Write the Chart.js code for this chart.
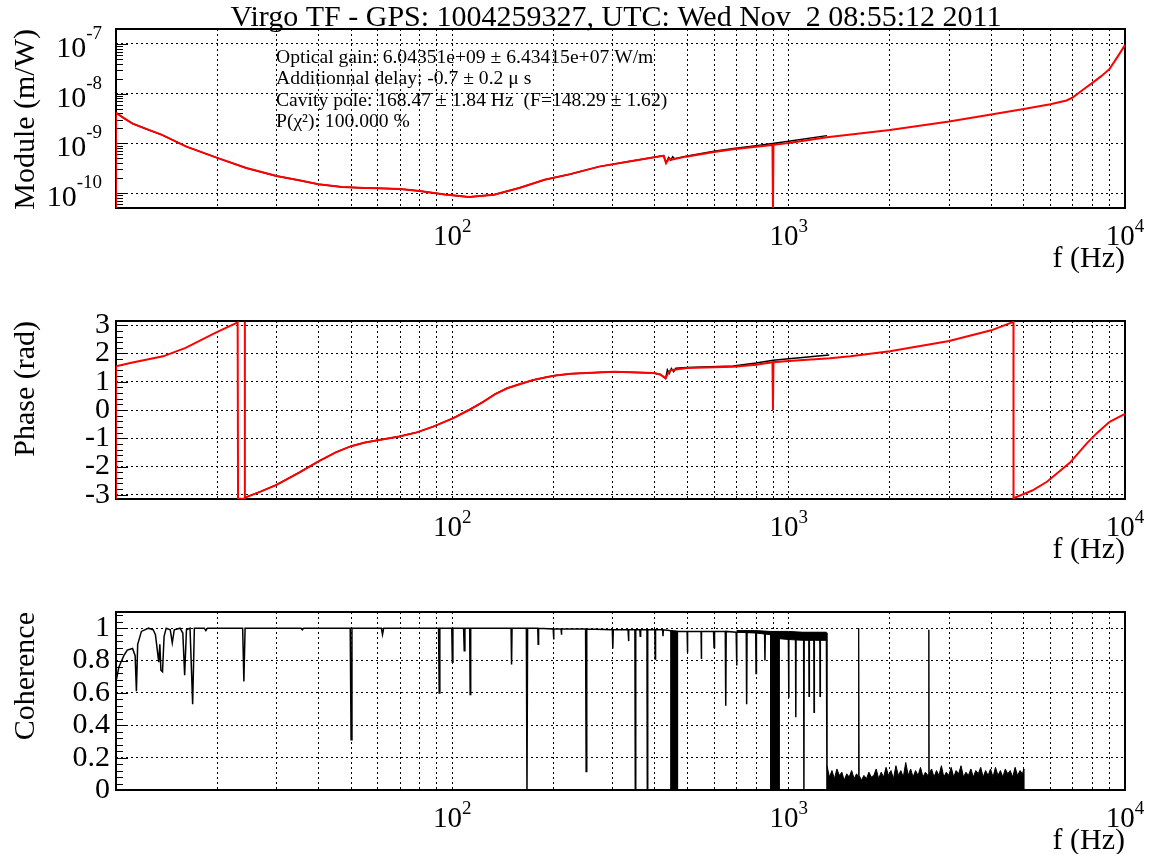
<!DOCTYPE html>
<html>
<head>
<meta charset="utf-8">
<script src="https://cdn.jsdelivr.net/npm/chart.js@4.4.1/dist/chart.umd.min.js"></script>
<style>
  html, body { margin: 0; padding: 0; background: #fff; }
  #wrap { position: relative; width: 1150px; height: 854px; }
  canvas { position: absolute; left: 0; }
</style>
</head>
<body>
<div id="wrap">
  <canvas id="module" width="1150" height="285" style="top:0px"></canvas>
  <canvas id="phase" width="1150" height="285" style="top:285px"></canvas>
  <canvas id="coherence" width="1150" height="284" style="top:570px"></canvas>
</div>
<script>
const FONT = "'Liberation Serif', 'Times New Roman', serif";

const title = "Virgo TF - GPS: 1004259327, UTC: Wed Nov  2 08:55:12 2011";
const fitInfo = [
    "Optical gain: 6.04351e+09 \u00b1 6.43415e+07 W/m",
    "Additionnal delay: -0.7 \u00b1 0.2 \u03bc s",
    "Cavity pole: 168.47 \u00b1 1.84 Hz  (F=148.29 \u00b1 1.62)",
    "P(\u03c7\u00b2): 100.000 %"
];

// frequency axis
const freqMin = 10, freqMax = 10000;
const freqDecades = [100, 1000, 10000];

// module (m/W)
const modMin = 5e-11, modMax = 2e-7;
const modDecades = [1e-10, 1e-9, 1e-8, 1e-7];
const modFitFreq = [10, 10, 10.5, 11.2, 12.3, 13.7, 16.2, 20, 24.4, 30, 35, 40, 47, 55, 60, 70, 80, 95, 112, 133,
    158, 188, 224, 273, 335, 415, 425, 432, 440, 448, 495, 600, 685, 800, 895, 898, 901, 1000, 1300, 2000,
    3000, 4000, 5000, 6000, 6700, 7000, 7500, 8000, 8500, 9000, 9500, 10000];
const modFit = [5e-11, 4.1e-9, 3.3e-9, 2.5e-9, 1.95e-9, 1.48e-9, 8.6e-10, 5.1e-10, 3.2e-10, 2.2e-10, 1.8e-10, 1.5e-10, 1.33e-10, 1.27e-10, 1.25e-10, 1.2e-10, 1.1e-10, 9.3e-11, 8.3e-11, 9.2e-11,
    1.26e-10, 1.85e-10, 2.4e-10, 3.4e-10, 4.3e-10, 5.5e-10, 5.6e-10, 4.0e-10, 4.85e-10, 4.7e-10, 5.4e-10, 6.7e-10, 7.6e-10, 8.5e-10, 9.3e-10, 4e-11, 9.35e-10, 1.02e-9, 1.33e-9, 1.86e-9,
    2.75e-9, 3.8e-9, 4.9e-9, 6.1e-9, 7.3e-9, 8.4e-9, 1.2e-8, 1.65e-8, 2.25e-8, 3.15e-8, 5.5e-8, 9.5e-8];
const modDataFreq = [10, 10.5, 11.2, 12.3, 13.7, 16.2, 20, 24.4, 30, 35, 40, 47, 55, 60, 70, 80, 95, 112, 133,
    158, 188, 224, 273, 335, 415, 425, 432, 440, 446, 452, 458, 495, 600, 685, 800, 895, 1000, 1300];
const modData = [4.15e-9, 3.3e-9, 2.5e-9, 1.95e-9, 1.48e-9, 8.6e-10, 5.1e-10, 3.2e-10, 2.2e-10, 1.8e-10, 1.5e-10, 1.33e-10, 1.27e-10, 1.25e-10, 1.2e-10, 1.1e-10, 9.3e-11, 8.3e-11, 9.2e-11,
    1.26e-10, 1.85e-10, 2.4e-10, 3.4e-10, 4.3e-10, 5.5e-10, 5.65e-10, 4.1e-10, 5.2e-10, 4.6e-10, 5.4e-10, 4.9e-10, 5.5e-10, 6.9e-10, 7.9e-10, 9.0e-10, 9.9e-10, 1.1e-9, 1.43e-9];

// phase (rad)
const phaseMin = -3.15, phaseMax = 3.15;
const phaseTicks = [-3, -2, -1, 0, 1, 2, 3];
const phaseFitFreq = [10, 10, 11.2, 13.8, 16.1, 19.8, 23.0, 23.06, 24.12, 24.15, 24.18, 27, 30, 35, 40,
    45, 50, 55, 60, 69.5, 78, 87.7, 100.7, 112, 123.5, 134, 145.5, 160, 174, 190,
    202.6, 225, 250, 302, 397, 415, 430.7, 438, 445.5, 499, 684, 800, 895, 898, 901,
    1000, 1326, 1526, 2000, 3000, 4000, 4660, 4662, 5300, 5860, 6850, 7710, 8260, 9000, 10000];
const phaseFit = [-3.15, 1.55, 1.68, 1.9, 2.2, 2.74, 3.1, -3.14, -3.14, 3.12, -3.1, -2.88, -2.65, -2.22, -1.82,
    -1.5, -1.28, -1.15, -1.07, -0.94, -0.8, -0.59, -0.29, 0.0, 0.29, 0.56, 0.77, 0.93, 1.06, 1.16,
    1.22, 1.28, 1.31, 1.35, 1.31, 1.26, 1.12, 1.3, 1.41, 1.49, 1.53, 1.6, 1.69, 0.0, 1.69,
    1.73, 1.83, 1.9, 2.08, 2.44, 2.82, 3.12, -3.12, -2.85, -2.54, -1.87, -1.17, -0.81, -0.42, -0.14];
const phaseDataFreq = [24.18, 27, 30, 35, 40, 45, 50, 55, 60, 69.5, 78, 87.7, 100.7, 112, 123.5, 134, 145.5, 160, 174, 190,
    202.6, 225, 250, 302, 397, 415, 430.7, 436, 442, 448, 455, 462, 499, 684, 800, 900, 1000, 1100, 1200, 1320];
const phaseData = [-3.1, -2.88, -2.65, -2.22, -1.82, -1.5, -1.28, -1.15, -1.07, -0.94, -0.8, -0.59, -0.29, 0.0, 0.29, 0.56, 0.77, 0.93, 1.06, 1.16,
    1.22, 1.28, 1.31, 1.35, 1.31, 1.26, 1.12, 1.42, 1.3, 1.47, 1.36, 1.48, 1.5, 1.56, 1.66, 1.76, 1.81, 1.86, 1.9, 1.95];

// coherence
const cohMin = 0, cohMax = 1.1;
const cohTicks = [0, 0.2, 0.4, 0.6, 0.8, 1];
const cohFreq = [
    10, 10.2, 10.4, 10.55, 10.8, 11.2, 11.4, 11.5, 11.6, 11.75, 11.9,
    12.5, 12.9, 13.1, 13.4, 13.5, 13.6, 13.75, 13.9, 14.1, 14.5, 14.7, 14.9,
    15.5, 15.8, 16.0, 16.2, 16.6, 16.9, 17.1,
    18.3, 18.5, 18.7, 23.8, 24.0, 24.2, 35.5, 35.8, 36.1, 49.7, 50.0, 50.3,
    61.5, 62, 62.5, 91, 91.4, 91.8, 99.6, 100, 100.4, 108, 108.5, 109,
    112.6, 113, 113.4, 149.5, 150, 150.5, 166, 166.7, 167.4, 179.5, 180, 180.5,
    199.5, 200, 200.5, 210.5, 211, 211.5, 249, 250, 251, 299, 300, 301,
    333, 334, 335, 349, 350, 351, 361, 362, 363, 379, 380, 381,
    400, 401, 402, 422, 423, 424, 443, 471,
    499, 500, 501, 549, 550, 551, 598, 600, 602, 648, 650, 652,
    698, 700, 702, 748, 750, 752, 798, 800, 802, 848, 850, 852, 878, 944,
    998, 1000, 1002, 1048, 1050, 1052, 1108, 1110, 1112,
    1148, 1150, 1152, 1188, 1190, 1192, 1238, 1240, 1242, 1295, 1300];
const cohVal = [
    0.67, 0.76, 0.80, 0.83, 0.865, 0.875, 0.83, 0.61, 0.90, 0.94, 0.98,
    1.0, 0.99, 0.96, 0.79, 0.90, 0.74, 0.73, 0.95, 1.0, 0.99, 0.91, 0.99,
    1.0, 0.97, 0.71, 0.99, 1.0, 0.53, 1.0,
    1.0, 0.985, 1.0, 1.0, 0.67, 1.0, 1.0, 0.99, 1.0, 1.0, 0.31, 1.0,
    1.0, 0.96, 1.0, 1.0, 0.60, 1.0, 1.0, 0.79, 1.0, 1.0, 0.86, 1.0,
    1.0, 0.59, 1.0, 1.0, 0.775, 1.0, 1.0, 0.0, 1.0, 1.0, 0.90, 1.0,
    0.995, 0.93, 0.995, 0.995, 0.96, 0.995, 0.995, 0.115, 0.995, 0.99, 0.875, 0.99,
    0.99, 0.92, 0.99, 0.99, 0.0, 0.99, 0.99, 0.95, 0.99, 0.99, 0.0, 0.99,
    0.99, 0.81, 0.99, 0.99, 0.95, 0.99, 0.985, 0.98,
    0.98, 0.85, 0.98, 0.98, 0.81, 0.98, 0.98, 0.88, 0.98, 0.98, 0.52, 0.98,
    0.975, 0.77, 0.975, 0.975, 0.53, 0.975, 0.975, 0.72, 0.975, 0.975, 0.80, 0.975, 0.975, 0.975,
    0.97, 0.57, 0.97, 0.97, 0.45, 0.97, 0.97, 0.0, 0.97,
    0.97, 0.58, 0.97, 0.97, 0.48, 0.97, 0.97, 0.58, 0.97, 0.97, 0.0];
// dense clusters of dips (drawn solid)
const cohBlockStart = [444, 880];
const cohBlockEnd = [470, 942];
const cohBlockTop = [0.98, 0.97];
// noisy band just under 1 (700 Hz - 1.3 kHz)
const cohBandFreq = [700, 800, 880, 940, 1000, 1100, 1200, 1295];
const cohBandTop = [0.985, 0.985, 0.98, 0.98, 0.98, 0.975, 0.975, 0.975];
const cohBandLow = [0.975, 0.97, 0.96, 0.935, 0.93, 0.925, 0.925, 0.925];
// upper envelope of the low-coherence noise above 1.3 kHz
const cohNoiseFreq = [1300, 1322, 1345, 1368, 1391, 1415, 1439, 1463, 1488, 1513, 1539, 1565, 1592, 1610,
    1613, 1617, 1620, 1646, 1674, 1703, 1732, 1761, 1791, 1821, 1852, 1884, 1916, 1948, 1981,
    2015, 2049, 2084, 2119, 2155, 2192, 2229, 2267, 2305, 2344, 2384, 2425, 2466, 2508, 2550, 2593,
    2606, 2609, 2613, 2616, 2660, 2705, 2751, 2798, 2845, 2893, 2942, 2992, 3043, 3095, 3147,
    3201, 3255, 3310, 3366, 3423, 3482, 3541, 3601, 3662, 3724, 3787, 3851, 3917, 3983,
    4051, 4120, 4190, 4261, 4333, 4407, 4481, 4557, 4635, 4713, 4793, 4875, 4957, 5000, 5000];
const cohNoiseVal = [0.15, 0.08, 0.12, 0.07, 0.13, 0.09, 0.11, 0.06, 0.10, 0.08, 0.12, 0.07, 0.10, 0.08,
    1.0, 1.0, 0.09, 0.06, 0.09, 0.07, 0.11, 0.08, 0.09, 0.13, 0.07, 0.11, 0.08, 0.14, 0.09,
    0.12, 0.07, 0.15, 0.09, 0.12, 0.08, 0.17, 0.09, 0.13, 0.08, 0.12, 0.09, 0.14, 0.08, 0.11, 0.09,
    0.10, 0.99, 0.99, 0.10, 0.13, 0.08, 0.12, 0.09, 0.15, 0.08, 0.11, 0.09, 0.14, 0.08, 0.12,
    0.10, 0.15, 0.08, 0.11, 0.09, 0.13, 0.08, 0.12, 0.10, 0.14, 0.08, 0.12, 0.09, 0.13,
    0.08, 0.14, 0.09, 0.12, 0.08, 0.13, 0.10, 0.12, 0.08, 0.14, 0.09, 0.12, 0.10, 0.13, 0];

// ---------------------------------------------------------------------

function pts(fs, vs) { return fs.map((f, i) => ({x: f, y: vs[i]})); }

const xGrid = [];
for (let d = 10; d < 10000; d *= 10) for (let m = 1; m < 10; m++) xGrid.push(m * d);
xGrid.push(10000);

function xAxis(height) {
    return {
        type: 'logarithmic', min: freqMin, max: freqMax,
        afterBuildTicks: s => { s.ticks = xGrid.map(v => ({value: v})); },
        afterFit: s => { s.height = height; },
        ticks: {display: false, autoSkip: false},
        grid: {color: '#000', lineWidth: 1, drawTicks: false},
        border: {display: false, dash: [2, 3]}
    };
}

function yAxis(type, min, max, ticks, showLabels) {
    return {
        type: type, min: min, max: max,
        afterBuildTicks: s => { s.ticks = ticks.map(v => ({value: v})); },
        afterFit: s => { s.width = 116; },
        ticks: {display: showLabels, autoSkip: false, color: '#000', padding: 6,
            font: {family: FONT, size: 30}, callback: v => String(v)},
        grid: {color: '#000', lineWidth: 1, drawTicks: false},
        border: {display: false, dash: [2, 3]}
    };
}

function drawPow(ctx, exp, x, y, align, baseSize, supSize, rise) {
    ctx.font = baseSize + 'px ' + FONT;
    const wb = ctx.measureText('10').width;
    ctx.font = supSize + 'px ' + FONT;
    const ws = ctx.measureText(exp).width;
    const x0 = align === 'center' ? x - (wb + ws) / 2 : x - (wb + ws);
    ctx.textAlign = 'left';
    ctx.textBaseline = 'alphabetic';
    ctx.font = baseSize + 'px ' + FONT;
    ctx.fillText('10', x0, y);
    ctx.font = supSize + 'px ' + FONT;
    ctx.fillText(exp, x0 + wb, y - rise);
}

// ROOT-like pad: frame, inner ticks, power-of-ten labels, axis titles
function rootPad(cfg) {
    return {
        id: 'rootPad',
        beforeDatasetsDraw(chart) {
            const {ctx, chartArea: a} = chart;
            const y = chart.scales.y;
            ctx.save();
            ctx.strokeStyle = '#000';
            ctx.lineWidth = 1;
            cfg.yMarks.forEach(([v, len]) => {
                const py = Math.round(y.getPixelForValue(v)) + 0.5;
                ctx.beginPath();
                ctx.moveTo(a.left, py);
                ctx.lineTo(a.left + len, py);
                ctx.stroke();
            });
            ctx.lineWidth = 2;
            ctx.strokeRect(a.left, a.top, a.right - a.left, a.bottom - a.top);
            ctx.restore();
        },
        afterDraw(chart) {
            const {ctx, chartArea: a} = chart;
            const x = chart.scales.x, y = chart.scales.y;
            ctx.save();
            ctx.fillStyle = '#000';
            freqDecades.forEach(d => {
                drawPow(ctx, String(Math.round(Math.log10(d))), x.getPixelForValue(d), a.bottom + 37, 'center', 29, 19, 13);
            });
            if (cfg.logLabels) {
                cfg.logLabels.forEach(v => {
                    drawPow(ctx, String(Math.round(Math.log10(v))), 102, y.getPixelForValue(v) + 13, 'right', 30, 19, 18);
                });
            }
            ctx.font = '30px ' + FONT;
            ctx.textAlign = 'right';
            ctx.textBaseline = 'alphabetic';
            ctx.fillText('f (Hz)', a.right, a.bottom + 59);
            ctx.save();
            ctx.translate(34, a.top);
            ctx.rotate(-Math.PI / 2);
            ctx.textAlign = 'right';
            ctx.fillText(cfg.yTitle, 0, 0);
            ctx.restore();
            if (cfg.extra) cfg.extra(ctx, a);
            ctx.restore();
        }
    };
}

function baseOptions(padTop, xHeight, yScale) {
    return {
        responsive: false,
        animation: false,
        events: [],
        layout: {padding: {top: padTop, right: 25, left: 0, bottom: 0}},
        elements: {point: {radius: 0}, line: {tension: 0}},
        plugins: {legend: {display: false}, tooltip: {enabled: false}},
        scales: {x: xAxis(xHeight), y: yScale}
    };
}

// inner tick marks on the left side of each frame
const modMarks = [];
for (let e = -11; e <= -7; e++) for (let m = 1; m < 10; m++) {
    const v = m * Math.pow(10, e);
    if (v >= modMin && v <= modMax) modMarks.push([v, m === 1 ? 12 : 7]);
}
const phaseMarks = [];
for (let i = -15; i <= 15; i++) phaseMarks.push([i * 0.2, i % 5 === 0 ? 12 : 7]);
const cohMarks = [];
for (let i = 0; i <= 27; i++) cohMarks.push([i * 0.04, i % 5 === 0 ? 12 : 7]);

// --- module ---
new Chart(document.getElementById('module'), {
    type: 'line',
    data: {
        datasets: [
            {label: 'fit', data: pts(modFitFreq, modFit), borderColor: '#ff0000', borderWidth: 2},
            {label: 'data', data: pts(modDataFreq, modData), borderColor: '#000', borderWidth: 1.5}
        ]
    },
    options: baseOptions(29, 77, yAxis('logarithmic', modMin, modMax, modDecades, false)),
    plugins: [rootPad({
        yTitle: 'Module (m/W)', yMarks: modMarks, logLabels: modDecades,
        extra: (ctx, a) => {
            ctx.textAlign = 'center';
            ctx.font = '30px ' + FONT;
            ctx.fillText(title, 616, 26);
            ctx.textAlign = 'left';
            ctx.font = '19.6px ' + FONT;
            fitInfo.forEach((t, i) => ctx.fillText(t, 276, 63 + i * 21.3));
        }
    })]
});

// --- phase ---
new Chart(document.getElementById('phase'), {
    type: 'line',
    data: {
        datasets: [
            {label: 'fit', data: pts(phaseFitFreq, phaseFit), borderColor: '#ff0000', borderWidth: 2},
            {label: 'data', data: pts(phaseDataFreq, phaseData), borderColor: '#000', borderWidth: 1.5}
        ]
    },
    options: baseOptions(36, 71, yAxis('linear', phaseMin, phaseMax, phaseTicks, true)),
    plugins: [rootPad({yTitle: 'Phase (rad)', yMarks: phaseMarks})]
});

// --- coherence ---
const cohSets = [
    {label: 'coherence', data: pts(cohFreq, cohVal), borderColor: '#000', borderWidth: 1.5},
    {label: 'band top', data: pts(cohBandFreq, cohBandTop), borderColor: '#000', borderWidth: 1},
    {label: 'band low', data: pts(cohBandFreq, cohBandLow), borderColor: '#000', borderWidth: 1,
        fill: '-1', backgroundColor: '#000'},
    {label: 'noise', data: pts(cohNoiseFreq, cohNoiseVal), borderColor: '#000', borderWidth: 1,
        fill: 'origin', backgroundColor: '#000'}
];
cohBlockStart.forEach((s, i) => {
    cohSets.push({label: 'cluster ' + i,
        data: [{x: s, y: cohBlockTop[i]}, {x: cohBlockEnd[i], y: cohBlockTop[i]}],
        borderColor: '#000', borderWidth: 1, fill: 'origin', backgroundColor: '#000'});
});
new Chart(document.getElementById('coherence'), {
    type: 'line',
    data: {datasets: cohSets},
    options: baseOptions(42, 64, yAxis('linear', cohMin, cohMax, cohTicks, true)),
    plugins: [rootPad({yTitle: 'Coherence', yMarks: cohMarks})]
});
</script>
</body>
</html>
